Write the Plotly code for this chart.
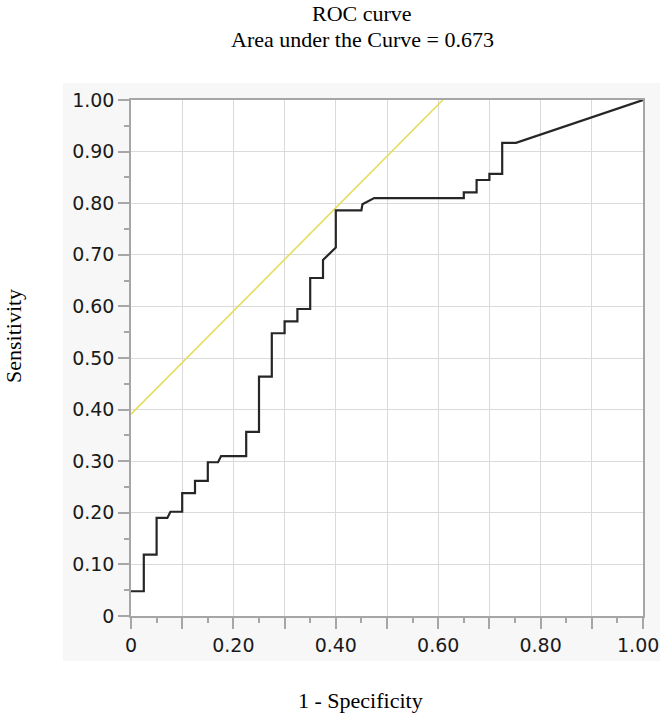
import plotly.graph_objects as go

# ROC curve points (1 - specificity, sensitivity)
fpr = [0, 0.025, 0.025, 0.05, 0.05, 0.071, 0.077, 0.1, 0.1, 0.125, 0.125, 0.15, 0.15, 0.170, 0.176,
       0.225, 0.225, 0.25, 0.25, 0.275, 0.275, 0.3, 0.3, 0.325, 0.325, 0.35, 0.35, 0.375, 0.375,
       0.4, 0.4, 0.45, 0.452, 0.475, 0.65, 0.65, 0.675, 0.675, 0.7, 0.7, 0.725, 0.725, 0.752, 1.0]
tpr = [0.048, 0.048, 0.119, 0.119, 0.190, 0.190, 0.202, 0.202, 0.238, 0.238, 0.262, 0.262, 0.298, 0.298, 0.310,
       0.310, 0.357, 0.357, 0.464, 0.464, 0.548, 0.548, 0.571, 0.571, 0.595, 0.595, 0.655, 0.655, 0.690,
       0.714, 0.786, 0.786, 0.798, 0.810, 0.810, 0.821, 0.821, 0.845, 0.845, 0.857, 0.857, 0.917, 0.917, 1.0]

# Tangent (Youden) line
tan_x = [0.0, 0.609]
tan_y = [0.391, 1.0]

x_tickvals = [0, 0.1, 0.2, 0.3, 0.4, 0.5, 0.6, 0.7, 0.8, 0.9, 1.0]
x_ticktext = ["0", "", "0.20", "", "0.40", "", "0.60", "", "0.80", "", "1.00"]
y_tickvals = [0, 0.1, 0.2, 0.3, 0.4, 0.5, 0.6, 0.7, 0.8, 0.9, 1.0]
y_ticktext = ["0", "0.10", "0.20", "0.30", "0.40", "0.50", "0.60", "0.70", "0.80", "0.90", "1.00"]

title_line1 = "ROC curve"
title_line2 = "Area under the Curve = 0.673"
x_title = "1 - Specificity"
y_title = "Sensitivity"

W, H = 664, 717
L, R, T, B = 131, 21, 100, 101
pw, ph = W - L - R, H - T - B

def px(x):
    return (x - L) / pw

def py(y):
    return (H - B - y) / ph

fig = go.Figure()
fig.add_trace(go.Scatter(x=tan_x, y=tan_y, mode="lines",
                         line=dict(color="#e6dc5c", width=1.6), hoverinfo="skip", showlegend=False))
fig.add_trace(go.Scatter(x=fpr, y=tpr, mode="lines",
                         line=dict(color="#262626", width=2.2), showlegend=False))

tick_font = dict(family="DejaVu Sans", size=19, color="#1a1a1a")

axis_common = dict(
    range=[0, 1], showline=True, linecolor="#a6a6a6", linewidth=1.5, mirror=True,
    ticks="outside", ticklen=11, tickwidth=1.5, tickcolor="#a6a6a6",
    showgrid=True, gridcolor="#dadada", gridwidth=1.3, zeroline=False,
    tickfont=tick_font,
    minor=dict(dtick=0.05, tick0=0, ticks="outside", ticklen=5, tickwidth=1.5,
               tickcolor="#a6a6a6", showgrid=False),
    fixedrange=True, automargin=False,
)

# last x tick label is drawn shifted left (as in the reference, it is kept inside the panel)
x_ticktext_axis = x_ticktext[:-1] + [""]
fig.update_xaxes(tickmode="array", tickvals=x_tickvals, ticktext=x_ticktext_axis, **axis_common)
fig.update_yaxes(tickmode="array", tickvals=y_tickvals, ticktext=y_ticktext, **axis_common)

shapes = [
    dict(type="rect", xref="paper", yref="paper", x0=px(63), x1=px(660), y0=py(661), y1=py(83),
         fillcolor="#f7f7f7", line=dict(width=0), layer="below"),
    dict(type="rect", xref="paper", yref="paper", x0=0, x1=1, y0=0, y1=1,
         fillcolor="white", line=dict(width=0), layer="below"),
]

serif = dict(family="Liberation Serif", size=22, color="black")
annotations = [
    dict(text=title_line1, x=px(362), y=py(14), xref="paper", yref="paper",
         showarrow=False, font=serif, xanchor="center", yanchor="middle"),
    dict(text=title_line2, x=px(362), y=py(39), xref="paper", yref="paper",
         showarrow=False, font=serif, xanchor="center", yanchor="middle"),
    dict(text=x_title, x=px(360), y=py(700), xref="paper", yref="paper",
         showarrow=False, font=serif, xanchor="center", yanchor="middle"),
    dict(text=y_title, x=px(13), y=py(336), xref="paper", yref="paper",
         showarrow=False, font=serif, xanchor="center", yanchor="middle", textangle=-90),
    dict(text=x_ticktext[-1], x=x_tickvals[-1], y=py(645), xref="x", yref="paper",
         showarrow=False, font=tick_font, xanchor="right", yanchor="middle", xshift=18),
]

fig.update_layout(
    width=W, height=H,
    margin=dict(l=L, r=R, t=T, b=B, pad=0, autoexpand=False),
    paper_bgcolor="white", plot_bgcolor="white",
    shapes=shapes, annotations=annotations,
    showlegend=False,
)

fig.write_html("out.html")
